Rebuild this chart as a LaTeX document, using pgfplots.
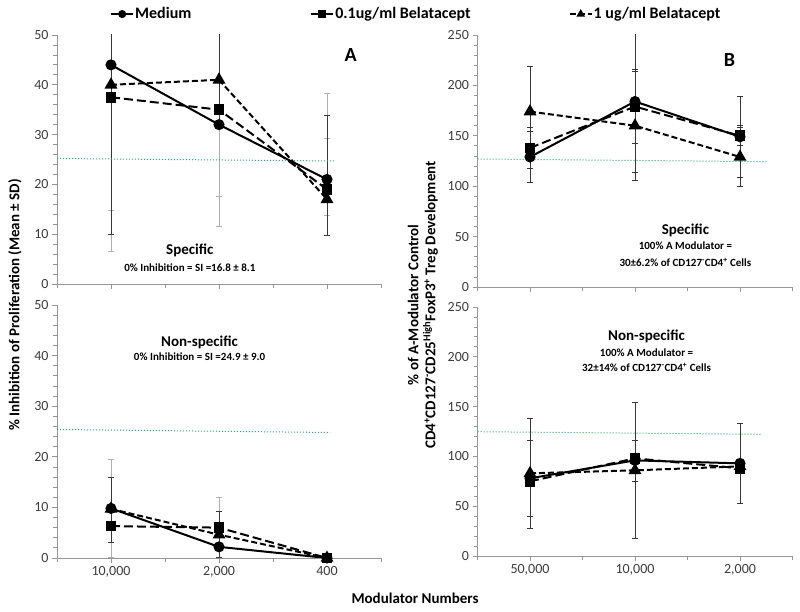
\documentclass[border=0pt]{standalone}
\usepackage{fontspec}
\setmainfont{Carlito}
\usepackage{pgfplots}
\pgfplotsset{compat=1.18}
\definecolor{axgray}{RGB}{150,150,150}
\definecolor{ticktext}{RGB}{60,60,60}
\definecolor{refgreen}{RGB}{40,170,110}
\definecolor{errdark}{RGB}{55,55,55}
\definecolor{errlight}{RGB}{175,175,175}
\pgfplotsset{
  panel/.style={
    scale only axis,
    anchor=south west,
    xmin=-0.5, xmax=2.5,
    axis x line*=bottom, axis y line*=left,
    axis line style={axgray, line width=0.8pt},
    every tick/.style={axgray, line width=0.8pt},
    tick align=outside,
    major tick length=5pt, minor tick length=4pt,
    xtick={0,1,2},
    minor xtick={-0.5,0.5,1.5,2.5},
    minor y tick num=4,
    tick label style={font=\fontsize{14}{16}\selectfont, text=ticktext},
    /pgf/number format/assume math mode=true,
    legend image code/.code={\draw[mark repeat=2, mark phase=2, #1, mark size=3pt] plot coordinates {(0pt,0pt) (11pt,0pt) (22pt,0pt)};},
  },
  med/.style={black, solid, line width=2pt, mark=*, mark size=4.5pt, mark options={solid}},
  lo/.style={black, dash pattern=on 9pt off 4pt, line width=2pt, mark=square*, mark size=4.3pt, mark options={solid}},
  hi/.style={black, dash pattern=on 6pt off 3pt, line width=2pt, mark=triangle*, mark size=5.5pt, mark options={solid}},
  ebd/.style={only marks, mark=none, forget plot, error bars/.cd, y dir=both, y explicit,
     error bar style={errdark, line width=1pt, solid},
     error mark options={rotate=90, errdark, mark size=3pt, line width=1pt}},
  ebl/.style={only marks, mark=none, forget plot, error bars/.cd, y dir=both, y explicit,
     error bar style={errlight, line width=1pt, solid},
     error mark options={rotate=90, errlight, mark size=3pt, line width=1pt}},
  refline/.style={refgreen, dotted, line width=1pt, forget plot, mark=none},
}
\begin{document}
\begin{tikzpicture}
\useasboundingbox (0,0) rectangle (800pt,612pt);

% ---------- Top-left ----------
\begin{axis}[panel, at={(57pt,328pt)}, width=324pt, height=249pt,
  ymin=0, ymax=50, ytick={0,10,...,50}, xticklabels={},
  legend columns=3,
  legend style={at={(0.1636,1.084)}, anchor=west, draw=none, fill=none,
    font=\bfseries\fontsize{16}{19}\selectfont, inner sep=0pt,
    nodes={inner sep=1pt}}]
\addplot[ebl] coordinates {(0,37.5) += (0,23) -= (0,22.7) (0,40) += (0,20) -= (0,33.5)
  (1,32) += (0,20.5) -= (0,20.5) (1,35) += (0,17.5) -= (0,17.5)
  (2,17) += (0,21.3) -= (0,3.3) (2,19) += (0,10.3) -= (0,5.3)};
\addplot[ebd] coordinates {(0,44) += (0,34) -= (0,34) (1,41) += (0,15) -= (0,9)
  (2,21) += (0,12.8) -= (0,11.2)};
\addplot[refline] coordinates {(-0.5,25.2) (2.07,24.7)};
\addplot[med] coordinates {(0,44) (1,32) (2,21)};
\addlegendentry{Medium\rule{118pt}{0pt}}
\addplot[lo] coordinates {(0,37.5) (1,35) (2,19)};
\addlegendentry{0.1ug/ml Belatacept\rule{97pt}{0pt}}
\addplot[hi] coordinates {(0,40) (1,41) (2,17)};
\addlegendentry{1 ug/ml Belatacept}
\node[font=\bfseries\fontsize{20}{22}\selectfont] at (axis cs:2.22,46) {A};
\node[font=\bfseries\fontsize{15}{18}\selectfont] at (axis cs:0.73,6.8) {Specific};
\node[font=\bfseries\fontsize{11}{13}\selectfont] at (axis cs:0.73,3.2) {0\% Inhibition = SI =16.8 ± 8.1};
\end{axis}

% ---------- Bottom-left ----------
\begin{axis}[panel, at={(57pt,54pt)}, width=324pt, height=253pt,
  ymin=0, ymax=50, ytick={0,10,...,50},
  xticklabels={{10,000},{2,000},{400}}]
\addplot[ebl] coordinates {(0,9.7) += (0,9.7) -= (0,9.7) (1,6) += (0,5.9) -= (0,5.9)};
\addplot[ebd] coordinates {(0,9.8) += (0,6.2) -= (0,6.8) (1,4.6) += (0,4.6) -= (0,4.6)};
\addplot[refline] coordinates {(-0.5,25.4) (2.03,24.8)};
\addplot[med] coordinates {(0,9.8) (1,2.2) (2,0)};
\addplot[lo] coordinates {(0,6.3) (1,6) (2,0)};
\addplot[hi] coordinates {(0,9.7) (1,4.6) (2,0)};
\node[font=\bfseries\fontsize{15}{18}\selectfont] at (axis cs:0.82,42.7) {Non-specific};
\node[font=\bfseries\fontsize{11}{13}\selectfont] at (axis cs:0.82,39.7) {0\% Inhibition = SI =24.9 ± 9.0};
\end{axis}

% ---------- Top-right ----------
\begin{axis}[panel, at={(477.5pt,325pt)}, width=315pt, height=252pt,
  ymin=0, ymax=250, ytick={0,50,...,250}, xticklabels={}]
\addplot[ebd] coordinates {(0,174) += (0,45) -= (0,45) (0,129) += (0,25) -= (0,25) (0,138) += (0,20.5) -= (0,20.5)
  (1,184) += (0,70) -= (0,70) (1,179) += (0,37) -= (0,37) (1,160) += (0,54) -= (0,54)
  (2,149) += (0,40) -= (0,40) (2,150) += (0,10) -= (0,10) (2,129) += (0,29) -= (0,29)};
\addplot[refline] coordinates {(-0.5,127) (2.25,124.3)};
\addplot[med] coordinates {(0,129) (1,184) (2,149)};
\addplot[lo] coordinates {(0,138) (1,179) (2,150)};
\addplot[hi] coordinates {(0,174) (1,160) (2,129)};
\node[font=\bfseries\fontsize{20}{22}\selectfont] at (axis cs:1.9,225) {B};
\node[font=\bfseries\fontsize{15}{18}\selectfont] at (axis cs:1.48,56.5) {Specific};
\node[font=\bfseries\fontsize{11}{13}\selectfont] at (axis cs:1.48,40.7) {100\% A Modulator =};
\node[font=\bfseries\fontsize{11}{13}\selectfont] at (axis cs:1.48,24.8) {30±6.2\% of CD127\textsuperscript{-}CD4\textsuperscript{+} Cells};
\end{axis}

% ---------- Bottom-right ----------
\begin{axis}[panel, at={(477.5pt,56pt)}, width=315pt, height=249pt,
  ymin=0, ymax=250, ytick={0,50,...,250},
  xticklabels={{50,000},{10,000},{2,000}}]
\addplot[ebd] coordinates {(0,83) += (0,55) -= (0,55) (0,78) += (0,38) -= (0,38)
  (1,86) += (0,68) -= (0,68) (1,98) += (0,18) -= (0,23)
  (2,93) += (0,40) -= (0,40)};
\addplot[refline] coordinates {(-0.5,124.8) (2.2,122.2)};
\addplot[med] coordinates {(0,78) (1,96) (2,93)};
\addplot[lo] coordinates {(0,75) (1,98) (2,88)};
\addplot[hi] coordinates {(0,83) (1,86) (2,90)};
\node[font=\bfseries\fontsize{15}{18}\selectfont] at (axis cs:1.11,220) {Non-specific};
\node[font=\bfseries\fontsize{11}{13}\selectfont] at (axis cs:1.11,204) {100\% A Modulator =};
\node[font=\bfseries\fontsize{11}{13}\selectfont] at (axis cs:1.11,189) {32±14\% of CD127\textsuperscript{-}CD4\textsuperscript{+} Cells};
\end{axis}

% ---------- Shared labels ----------
\node[rotate=90, font=\bfseries\fontsize{15}{18}\selectfont] at (15pt,307pt) {\% Inhibition of Proliferation (Mean ± SD)};
\node[rotate=90, align=center, font=\bfseries\fontsize{15}{17}\selectfont] at (423pt,307pt)
  {\% of A-Modulator Control\\CD4\textsuperscript{+}CD127\textsuperscript{-}CD25\textsuperscript{High}FoxP3\textsuperscript{+} Treg Development};
\node[font=\bfseries\fontsize{15}{18}\selectfont] at (415pt,14pt) {Modulator Numbers};
\end{tikzpicture}
\end{document}
